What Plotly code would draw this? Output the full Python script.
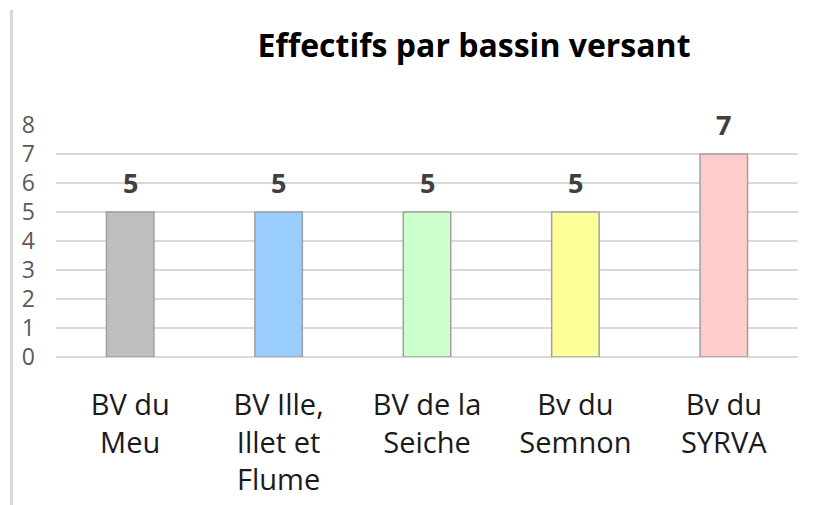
import plotly.graph_objects as go

categories = ["BV du<br>Meu", "BV Ille,<br>Illet et<br>Flume", "BV de la<br>Seiche", "Bv du<br>Semnon", "Bv du<br>SYRVA"]
values = [5, 5, 5, 5, 7]
bar_colors = ["#BFBFBF", "#99CCFF", "#CCFFCC", "#FFFF99", "#FFCCCC"]
y_ticks = [0, 1, 2, 3, 4, 5, 6, 7, 8]

W, H = 818, 505
OFF = 8  # page body margin
ML, MR, MT, MB = 56 - OFF, 20 + OFF, 125 - OFF, 148 + OFF

fig = go.Figure()
fig.add_trace(go.Bar(
    x=categories, y=values,
    marker=dict(color=bar_colors, line=dict(color="#A0A0A0", width=1.5)),
    width=0.32,
    hoverinfo="x+y",
))

for c, v in zip(categories, values):
    fig.add_annotation(x=c, y=v, text=str(v), showarrow=False, yanchor="middle",
                       yshift=30, font=dict(family="Open Sans", size=27, color="#404040", weight="bold"))

fig.update_layout(
    width=W, height=H,
    margin=dict(l=ML, r=MR, t=MT, b=MB, autoexpand=False),
    paper_bgcolor="white", plot_bgcolor="white",
    showlegend=False,
    title=dict(text="<b>Effectifs par bassin versant</b>", x=(474 - OFF) / W, xanchor="center",
               y=1 - (46 - OFF) / H, yanchor="middle", yref="container",
               font=dict(family="Open Sans", size=32, color="#000000")),
    font=dict(family="Open Sans"),
)
fig.update_yaxes(range=[0, 8], tickvals=y_ticks, showgrid=True, gridcolor="#D9D9D9", gridwidth=1.5,
                 zeroline=True, zerolinecolor="#D9D9D9", zerolinewidth=1.5, showline=False,
                 ticks="", ticklabelstandoff=20,
                 tickfont=dict(family="Open Sans", size=23, color="#595959"))
fig.update_xaxes(showline=False, ticks="", ticklabelstandoff=28,
                 tickfont=dict(family="Open Sans", size=29, color="#1A1A1A"))

pw = W - ML - MR
ph = H - MT - MB
fig.add_shape(type="line", xref="paper", yref="paper",
              x0=(11.5 - OFF - ML) / pw, x1=(11.5 - OFF - ML) / pw,
              y0=1 + (MT - 2) / ph, y1=-MB / ph,
              line=dict(color="#D9D9D9", width=3))

fig.write_html("out.html")
